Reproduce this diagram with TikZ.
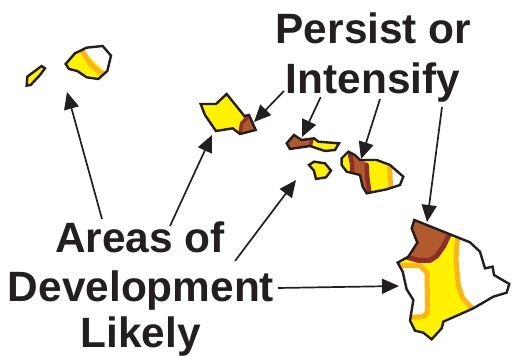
\documentclass[tikz,border=0pt]{standalone}
\usepackage{fontspec}
\setmainfont{Liberation Sans}
\usetikzlibrary{arrows.meta}
\definecolor{ylw}{HTML}{FFF200}
\definecolor{org}{HTML}{FDB515}
\definecolor{brn}{HTML}{B05A2C}
\definecolor{mar}{HTML}{8E2A32}
\definecolor{ink}{HTML}{231F20}
\tikzset{
  coast/.style={draw=ink,line width=2.4pt,line join=miter,miter limit=3},
  band/.style={line width=#1,line cap=round,line join=round},
  lbl/.style={font=\fontsize{42.4}{42.4}\selectfont\bfseries,text=ink,inner sep=0pt,anchor=base},
  arr/.style={draw=ink,line width=1.7pt,-{Triangle[length=17pt,width=15pt]},shorten >=0pt}
}
\begin{document}
\begin{tikzpicture}[x=1pt,y=-1pt]
\useasboundingbox (0,0) rectangle (512,356);
% Kauai + Niihau
\begin{scope}[shift={(0,20)},x=0.3333pt,y=-0.3333pt]
\def\kauai{(197,132)--(225,100)--(260,83)--(308,78)--(333,107)--(322,153)--(295,177)--(260,172)--(232,153)--(207,147)--cycle}
\begin{scope}\clip \kauai;
\fill[ylw] (190,70)--(245,90)--(320,160)--(300,190)--(190,190)--cycle;
\draw[org,band=5pt] (245,90)--(270,130)--(300,158)--(325,165);
\end{scope}
\draw[coast] \kauai;
\def\niihau{(82,170)--(125,138)--(135,145)--(120,165)--(92,195)--(80,197)--cycle}
\fill[ylw] \niihau;
\draw[coast] \niihau;
\end{scope}
% Oahu, Molokai, Lanai, Maui
\begin{scope}[shift={(190,80)},x=0.3333pt,y=-0.3333pt]
\def\oahu{(32,72)--(78,72)--(110,42)--(163,108)--(177,105)--(197,150)--(150,162)--(128,145)--(78,153)--(45,105)--cycle}
\begin{scope}\clip \oahu;
\fill[ylw] (20,30) rectangle (210,170);
\fill[brn] (165,100)--(210,100)--(210,170)--(145,170)--cycle;
\draw[mar,band=3.5pt] (172,112)--(155,130)--(150,160);
\end{scope}
\draw[coast] \oahu;
\def\molokai{(290,190)--(312,165)--(335,180)--(372,175)--(385,185)--(447,190)--(435,210)--(405,213)--(360,198)--(300,207)--cycle}
\begin{scope}\clip \molokai;
\fill[ylw] (280,160) rectangle (455,220);
\fill[brn] (280,160)--(372,160)--(365,220)--(280,220)--cycle;
\draw[mar,band=3pt] (368,175)--(358,202);
\end{scope}
\draw[coast] \molokai;
\def\lanai{(357,255)--(372,245)--(405,250)--(423,272)--(408,292)--(378,297)--(372,272)--cycle}
\fill[ylw] \lanai;
\draw[coast] \lanai;
\def\maui{(455,235)--(475,215)--(495,225)--(510,240)--(560,240)--(600,255)--(640,290)--(630,315)--(590,328)--(530,340)--(518,320)--(510,285)--(470,275)--(455,255)--cycle}
\begin{scope}\clip \maui;
\fill[ylw] (445,205) rectangle (600,350);
\fill[brn] (480,205)--(530,250)--(538,350)--(510,350)--(485,275)--cycle;
\draw[mar,band=4.5pt] (480,222)--(486,250)--(487,280);
\draw[mar,band=4.5pt] (530,255)--(532,295)--(538,335);
\draw[org,band=5pt] (599,250)--(602,330);
\end{scope}
\draw[coast] \maui;
\end{scope}
% Big Island
\begin{scope}[shift={(380,200)},x=0.3333pt,y=-0.3333pt]
\def\big{(103,60)--(270,127)--(300,155)--(315,205)--(338,200)--(342,225)--(388,252)--(380,278)--(340,290)--(280,325)--(190,365)--(185,385)--(155,418)--(130,398)--(105,392)--(90,362)--(100,300)--(80,268)--(68,215)--(53,188)--(85,170)--(112,128)--(95,85)--cycle}
\begin{scope}\clip \big;
\fill[ylw] (40,50) rectangle (400,430);
\fill[white] (228,110)--(400,110)--(400,330)--(280,330)--(245,295)--(232,250)--(228,180)--cycle;
\fill[white] (40,197)--(120,197)--(143,218)--(143,335)--(130,350)--(80,350)--cycle;
\draw[org,band=5pt] (232,120)--(228,180)--(235,255)--(248,295)--(282,330);
\draw[org,band=5pt] (55,197)--(120,197)--(141,218)--(143,335)--(130,350)--(90,352);
\fill[brn] (95,50)--(210,100)--(195,135)--(170,168)--(150,182)--(115,182)--(75,170)--(80,50)--cycle;
\draw[mar,band=5pt] (207,105)--(190,140)--(170,168)--(150,181)--(115,181)--(75,170);
\end{scope}
\draw[coast] \big;
\end{scope}
% Labels
\node[lbl] (p1) at (373.5,43.5) {Persist or};
\node[lbl] (p2) at (373,93.5) {Intensify};
\node[lbl] (a1) at (140,252) {Areas of};
\node[lbl] (a2) at (141,301) {Development};
\node[lbl] (a3) at (140.5,347) {Likely};
% Arrow ends
\coordinate (s1) at (102,219); \coordinate (t1) at (67,92);
\coordinate (s2) at (170,226); \coordinate (t2) at (212,135);
\coordinate (s3) at (235,261); \coordinate (t3) at (296,180);
\coordinate (s4) at (278,288); \coordinate (t4) at (399,286);
\coordinate (s5) at (284,91);  \coordinate (t5) at (254,122);
\coordinate (s6) at (320.7,97);  \coordinate (t6) at (302,137);
\coordinate (s7) at (380,99);  \coordinate (t7) at (361,159);
\coordinate (s8) at (442,107); \coordinate (t8) at (427,222);
\foreach \n in {1,...,8} \draw[arr] (s\n) -- (t\n);
\end{tikzpicture}
\end{document}
